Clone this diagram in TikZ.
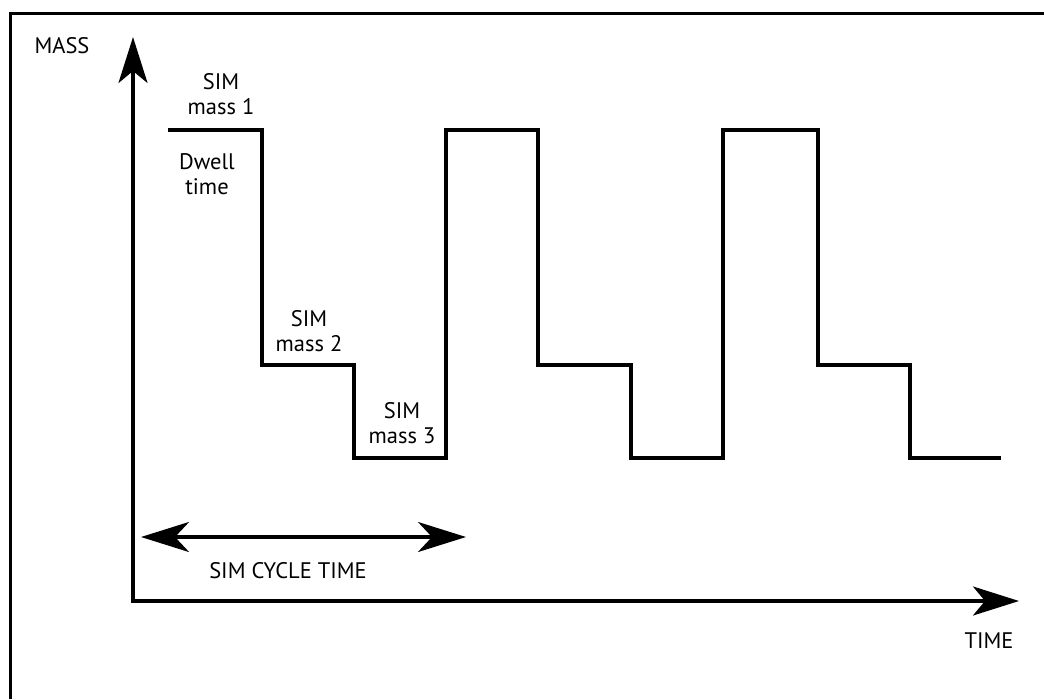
\documentclass[tikz,border=0pt]{standalone}
\usepackage{fontspec}
\setmainfont{PT Sans}
\usetikzlibrary{arrows.meta}
\begin{document}
\begin{tikzpicture}[x=1pt,y=-1pt,
  lbl/.style={font=\fontsize{22.5}{25}\selectfont, align=center, inner sep=0pt},
  sig/.style={line width=3.2pt, line join=miter},
  axis/.style={line width=3.2pt, -{Stealth[length=46pt,width=29pt,inset=12pt]}},
  dbl/.style={line width=3.2pt, {Stealth[length=48pt,width=30pt,inset=14pt]}-{Stealth[length=48pt,width=30pt,inset=14pt]}}]
\useasboundingbox (0,0) rectangle (1044,699);
% frame
\draw[line width=3pt] (10.5,699) -- (10.5,13.5) -- (1044,13.5);
% axes
\coordinate (o) at (133,601);
\coordinate (ytip) at (133,37);
\coordinate (xtip) at (1019,601);
\draw[axis] (o) -- (ytip);
\draw[axis] ([xshift=-1.6pt]o) -- (xtip);
% signal
\draw[sig] (168,130) -- (262,130) -- (262,365) -- (354,365) -- (354,458) -- (446,458)
  -- (446,130) -- (538,130) -- (538,365) -- (631,365) -- (631,458) -- (723,458)
  -- (723,130) -- (818,130) -- (818,365) -- (910,365) -- (910,458) -- (1001,458);
% cycle arrow
\coordinate (cl) at (141,537);
\coordinate (cr) at (466,537);
\draw[dbl] (cl) -- (cr);
% labels
\node[lbl] (mass) at (62,46) {MASS};
\node[lbl] (m1) at (221,94) {SIM\\mass 1};
\node[lbl] (dw) at (207,174) {Dwell\\time};
\node[lbl] (m2) at (309,331) {SIM\\mass 2};
\node[lbl] (m3) at (402,423) {SIM\\mass 3};
\node[lbl] (cyc) at (288,571) {SIM CYCLE TIME};
\node[lbl] (time) at (989,641) {TIME};
\end{tikzpicture}
\end{document}
